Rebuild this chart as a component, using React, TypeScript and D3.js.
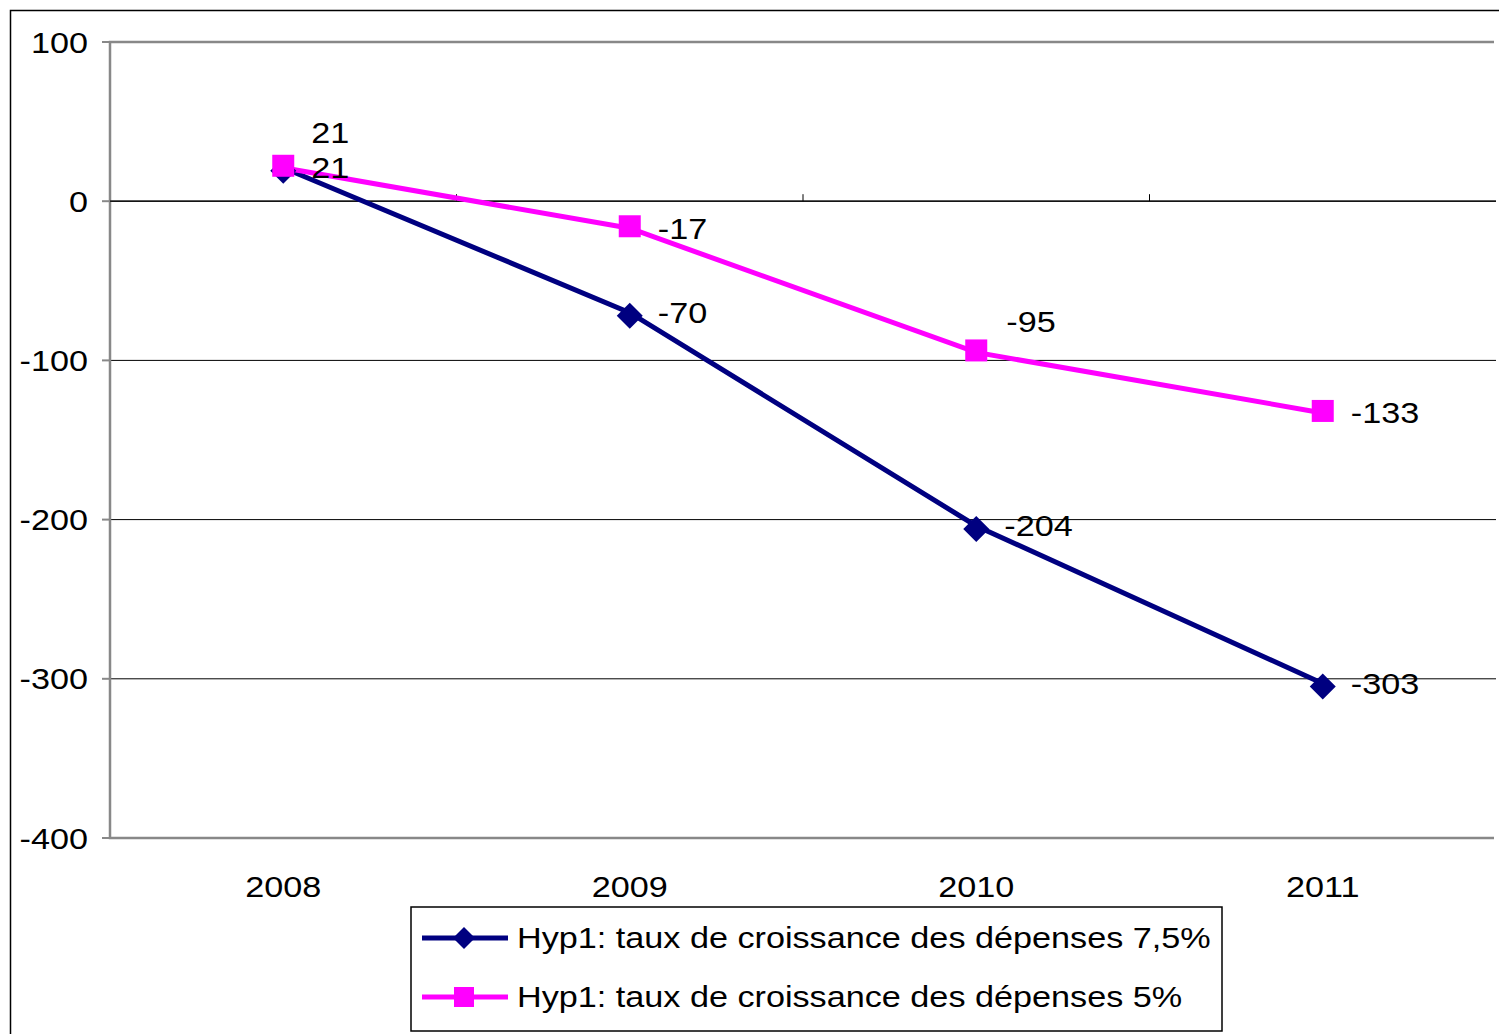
import React from 'react';
import * as d3 from 'd3';

const years = ['2008', '2009', '2010', '2011'];
const hyp75 = [21, -70, -204, -303];
const hyp5 = [21, -17, -95, -133];
const yTicks = [100, 0, -100, -200, -300, -400];
// label offsets in pixels relative to the point: [dx, dy]
const lab75: [number, number][] = [[28, 0], [28, 0], [28, 0], [28, 0]];
const lab5: [number, number][] = [[28, -35], [28, 0], [30, -31], [28, 0]];

const W = 1499, H = 1034;
const m = { left: 110, right: 1496, top: 42, bottom: 838 };
const font = 'Liberation Sans, Arial, sans-serif';
const SX = 1.14;

function Txt({ x, y, anchor = 'start', children }: { x: number; y: number; anchor?: string; children: React.ReactNode }) {
  return (
    <text transform={`translate(${x},${y}) scale(${SX},1)`} dy="0.35em" textAnchor={anchor} fontSize={30}>{children}</text>
  );
}

export default function App() {
  const x = d3.scaleBand().domain(years).range([m.left, m.right]);
  const y = d3.scaleLinear().domain([-400, 100]).range([m.bottom, m.top]);
  const cx = (d: string) => (x(d) || 0) + x.bandwidth() / 2;
  const line = d3.line<number>().x((_, i) => cx(years[i])).y(v => y(v));

  return (
    <svg width={W} height={H} style={{ position: 'absolute', left: 0, top: 0 }} fontFamily={font}>
      <rect x={0} y={0} width={W} height={H} fill="#fff" />
      <path d={`M10.5,${H} V10.5 H${W}`} fill="none" stroke="#000" strokeWidth={1.5} />
      {yTicks.filter(t => t < 100 && t > -400).map(t => (
        <line key={t} x1={m.left} x2={m.right} y1={y(t)} y2={y(t)} stroke="#000" strokeWidth={1} />
      ))}
      <path d={`M${m.right - 2},${m.top} H${m.left} V${m.bottom} H${m.right - 2}`} fill="none" stroke="#888" strokeWidth={2.5} />
      <line x1={m.left} x2={m.right} y1={y(0)} y2={y(0)} stroke="#000" strokeWidth={1.2} />
      {years.slice(1).map(yr => (
        <line key={yr} x1={x(yr)} x2={x(yr)} y1={y(0) - 7} y2={y(0)} stroke="#000" />
      ))}
      {yTicks.map(t => (
        <g key={t}>
          <line x1={m.left - 8} x2={m.left} y1={y(t)} y2={y(t)} stroke="#888" strokeWidth={2} />
          <Txt x={88} y={y(t)} anchor="end">{t}</Txt>
        </g>
      ))}
      {years.map(yr => (
        <Txt key={yr} x={cx(yr)} y={886} anchor="middle">{yr}</Txt>
      ))}
      <path d={line(hyp75) || ''} fill="none" stroke="#000080" strokeWidth={5} />
      <path d={line(hyp5) || ''} fill="none" stroke="#FF00FF" strokeWidth={5} />
      {hyp75.map((v, i) => (
        <path key={i} transform={`translate(${cx(years[i])},${y(v) + 3})`} d="M0,-13L13,0L0,13L-13,0Z" fill="#000080" />
      ))}
      {hyp5.map((v, i) => (
        <rect key={i} x={cx(years[i]) - 11} y={y(v) - 13} width={22} height={22} fill="#FF00FF" />
      ))}
      {hyp75.map((v, i) => (
        <Txt key={i} x={cx(years[i]) + lab75[i][0]} y={y(v) + lab75[i][1]}>{v}</Txt>
      ))}
      {hyp5.map((v, i) => (
        <Txt key={i} x={cx(years[i]) + lab5[i][0]} y={y(v) + lab5[i][1]}>{v}</Txt>
      ))}
      <rect x={411} y={907} width={811} height={124} fill="#fff" stroke="#000" strokeWidth={1.5} />
      <line x1={422} x2={508} y1={938} y2={938} stroke="#000080" strokeWidth={5} />
      <path transform="translate(464,938)" d="M0,-11L11,0L0,11L-11,0Z" fill="#000080" />
      <Txt x={517} y={937}>Hyp1: taux de croissance des dépenses 7,5%</Txt>
      <line x1={422} x2={508} y1={997} y2={997} stroke="#FF00FF" strokeWidth={5} />
      <rect x={454} y={987} width={20} height={20} fill="#FF00FF" />
      <Txt x={517} y={996}>Hyp1: taux de croissance des dépenses 5%</Txt>
    </svg>
  );
}
